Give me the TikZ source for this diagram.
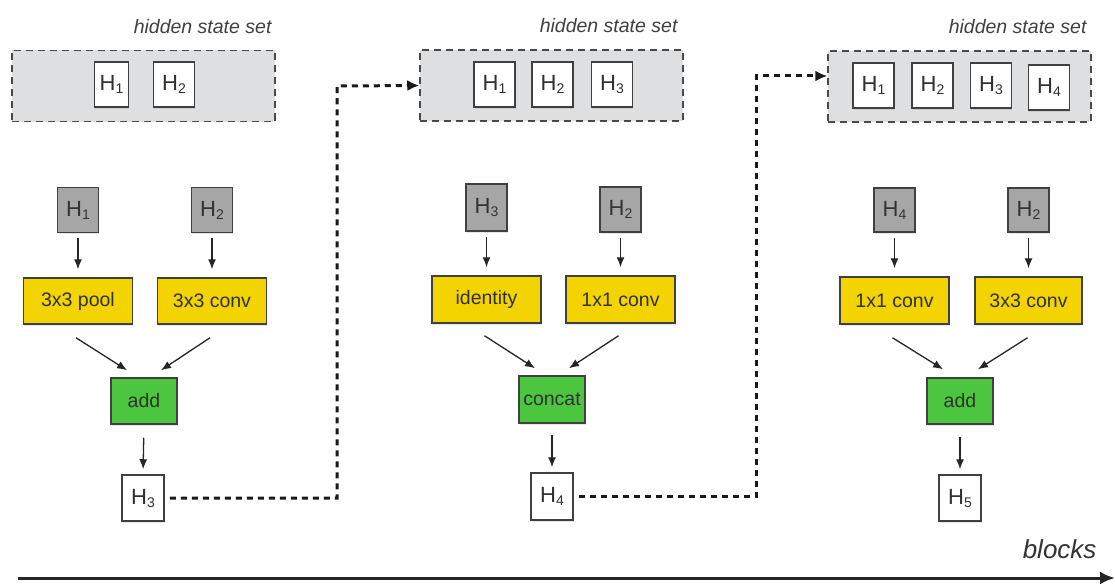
\documentclass[tikz,border=0pt]{standalone}
\usepackage{fontspec}
\setmainfont{Liberation Sans}
\usetikzlibrary{arrows.meta,calc,shadows}

\definecolor{setfill}{HTML}{DEDFE0}
\definecolor{setline}{HTML}{4A4A4A}
\definecolor{infill}{HTML}{A6A6A6}
\definecolor{opyellow}{HTML}{F4D400}
\definecolor{opgreen}{HTML}{4CC63E}
\definecolor{txt}{HTML}{303030}

% hidden state label with a small subscript
\newcommand{\hst}[1]{H\raisebox{-3pt}{\fontsize{14}{14}\selectfont #1}}

\tikzset{
  base/.style={draw=black!75, line width=1.5pt, inner sep=0pt, text=txt,
               font=\fontsize{19.5}{22}\selectfont,
               drop shadow={shadow xshift=0.6pt, shadow yshift=-1.8pt, opacity=0.2}},
  hbox/.style={base, fill=white, minimum width=41pt, minimum height=45pt,
               font=\fontsize{22}{24}\selectfont},
  inbox/.style={hbox, fill=infill, text=black!80},
  opbox/.style={base, fill=opyellow, minimum width=109pt, minimum height=46pt},
  mergebox/.style={base, fill=opgreen, minimum width=66pt, minimum height=46pt},
  stateset/.style={draw=setline, fill=setfill, line width=1.5pt,
                   dash pattern=on 7pt off 5pt, minimum width=263pt, minimum height=71pt},
  setlabel/.style={anchor=base east, text=black!75,
                   font=\fontsize{19.5}{22}\selectfont\itshape},
  flow/.style={-{Latex[length=10pt,width=8pt]}, line width=1.3pt, black!85},
  carry/.style={-{Latex[length=12pt,width=11pt]}, line width=3pt, black!90,
                dash pattern=on 6pt off 5pt},
}

\begin{document}
\begin{tikzpicture}[x=1pt,y=-1pt]
\useasboundingbox (0,0) rectangle (1115,583);

% ---------- block 1 ----------
\node[setlabel] at (275,34) {hidden state set};
\node[stateset] (set1) at (143.5,86) {};
\node[hbox, minimum width=34pt] (s1h1) at (111.5,84.5) {\hst{1}};
\node[hbox] (s1h2) at (174,84.5) {\hst{2}};

\node[inbox] (g1a) at (78,210) {\hst{1}};
\node[inbox] (g1b) at (212,210) {\hst{2}};
\node[opbox] (y1a) at (78,301) {3x3 pool};
\node[opbox] (y1b) at (212,301) {3x3 conv};
\node[mergebox] (m1) at (144,401) {add};
\node[hbox, minimum width=42pt, minimum height=46pt] (o1) at (143,498) {\hst{3}};

\draw[flow, shorten <=5pt, shorten >=8pt] (g1a.south) -- (y1a.north);
\draw[flow, shorten <=5pt, shorten >=8pt] (g1b.south) -- (y1b.north);
\draw[flow] ($(y1a.south)+(-2,13)$) -- ($(m1.north)+(-17,-7)$);
\draw[flow] ($(y1b.south)+(-2,13)$) -- ($(m1.north)+(17,-7)$);
\draw[flow, shorten <=13pt, shorten >=5pt] (m1.south) -- (o1.north);

% ---------- block 2 ----------
\node[setlabel] at (681,33) {hidden state set};
\node[stateset] (set2) at (551.5,85.5) {};
\node[hbox] (s2h1) at (494.5,84.5) {\hst{1}};
\node[hbox] (s2h2) at (552.5,84.5) {\hst{2}};
\node[hbox] (s2h3) at (612,84.5) {\hst{3}};

\node[inbox, minimum height=47pt] (g2a) at (486.5,207.5) {\hst{3}};
\node[inbox] (g2b) at (620.5,209.5) {\hst{2}};
\node[opbox, minimum height=47pt] (y2a) at (486.5,299.5) {identity};
\node[opbox, minimum height=47pt] (y2b) at (620.5,299.5) {1x1 conv};
\node[mergebox, minimum height=47pt] (m2) at (552,399.5) {concat};
\node[hbox, minimum width=42pt, minimum height=47pt] (o2) at (552,496.5) {\hst{4}};

\draw[flow, shorten <=5pt, shorten >=8pt] (g2a.south) -- (y2a.north);
\draw[flow, shorten <=5pt, shorten >=8pt] (g2b.south) -- (y2b.north);
\draw[flow] ($(y2a.south)+(-2,12)$) -- ($(m2.north)+(-17,-7)$);
\draw[flow] ($(y2b.south)+(-2,12)$) -- ($(m2.north)+(17,-7)$);
\draw[flow, shorten <=11pt, shorten >=5pt] (m2.south) -- (o2.north);

% ---------- block 3 ----------
\node[setlabel] at (1090,34) {hidden state set};
\node[stateset] (set3) at (959.5,86.5) {};
\node[hbox] (s3h1) at (873.5,85.5) {\hst{1}};
\node[hbox] (s3h2) at (932.5,85.5) {\hst{2}};
\node[hbox] (s3h3) at (991,85.5) {\hst{3}};
\node[hbox] (s3h4) at (1049,87.5) {\hst{4}};

\node[inbox, minimum height=44pt] (g3a) at (894.5,210) {\hst{4}};
\node[inbox, minimum height=44pt] (g3b) at (1028.5,210) {\hst{2}};
\node[opbox, minimum height=47pt] (y3a) at (894.5,300.5) {1x1 conv};
\node[opbox, minimum height=47pt, minimum width=107pt] (y3b) at (1028.5,300.5) {3x3 conv};
\node[mergebox] (m3) at (960,401) {add};
\node[hbox, minimum width=42pt, minimum height=46pt] (o3) at (960,498) {\hst{5}};

\draw[flow, shorten <=5pt, shorten >=8pt] (g3a.south) -- (y3a.north);
\draw[flow, shorten <=5pt, shorten >=8pt] (g3b.south) -- (y3b.north);
\draw[flow] ($(y3a.south)+(-2,13)$) -- ($(m3.north)+(-17,-8)$);
\draw[flow] ($(y3b.south)+(-1,13)$) -- ($(m3.north)+(18,-8)$);
\draw[flow, shorten <=12pt, shorten >=5pt] (m3.south) -- (o3.north);

% ---------- new states join the next hidden state set ----------
\coordinate (turn1) at (337,86);
\coordinate (turn2) at (756,76);
\draw[carry, shorten <=5pt] (o1.east) -| (turn1) -- (set2.west);
\draw[carry, shorten <=5pt] (o2.east) -| (turn2) -- (set3.west |- turn2);

% ---------- time axis ----------
\node[anchor=base east, text=black!80, font=\fontsize{26}{28}\selectfont\itshape]
  (blk) at (1100,558) {blocks};
\coordinate (axs) at (18,578);
\coordinate (axe) at (1115,578);
\draw[-{Latex[length=15pt,width=13pt]}, line width=3pt, black!85] (axs) -- (axe);
\end{tikzpicture}
\end{document}
